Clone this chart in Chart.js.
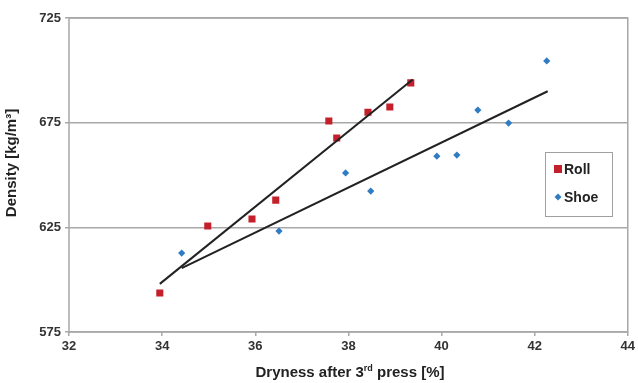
<!DOCTYPE html>
<html>
<head>
<meta charset="utf-8">
<script src="https://cdn.jsdelivr.net/npm/chart.js@4"></script>
<style>
  html, body { margin: 0; padding: 0; background: #fff; }
  #wrap { width: 638px; height: 383px; }
</style>
</head>
<body>
<div id="wrap"><canvas id="graphChart" width="638" height="383"></canvas></div>
<script>
// values
const rollDryness = [33.95, 34.98, 35.93, 36.44, 37.58, 37.75, 38.42, 38.89, 39.34];
const rollDensity = [593.6, 625.6, 629.0, 638.0, 675.8, 667.7, 680.0, 682.5, 694.0];
const shoeDryness = [34.42, 36.51, 37.94, 38.48, 39.90, 40.33, 40.78, 41.44, 42.26];
const shoeDensity = [612.7, 623.2, 651.0, 642.3, 659.0, 659.5, 681.0, 674.8, 704.5];
const rollTrendX = [33.95, 39.38];
const rollTrendY = [598.0, 695.6];
const shoeTrendX = [34.42, 42.28];
const shoeTrendY = [605.5, 690.0];
const xTicks = [32, 34, 36, 38, 40, 42, 44];
const yTicks = [575, 625, 675, 725];

const toPoints = (xs, ys) => xs.map((x, i) => ({ x: x, y: ys[i] }));

const FONT = "'Liberation Sans', Arial, sans-serif";

const frame = {
  id: 'frame',
  beforeDatasetsDraw(chart) {
    const a = chart.chartArea;
    const c = chart.ctx;
    c.save();
    c.strokeStyle = '#a8a8a8';
    c.lineWidth = 1.5;
    c.strokeRect(a.left, a.top, a.right - a.left, a.bottom - a.top);
    c.restore();
  },
  afterDraw(chart) {
    const c = chart.ctx;
    const a = chart.chartArea;
    c.save();
    c.fillStyle = '#222';
    c.textBaseline = 'alphabetic';
    c.textAlign = 'left';

    // x title with superscript
    const y0 = 377;
    const parts = [['Dryness after 3', 'bold 15px ' + FONT, 0], ['rd', 'bold 9px ' + FONT, -6], [' press [%]', 'bold 15px ' + FONT, 0]];
    let total = 0;
    parts.forEach(p => { c.font = p[1]; total += c.measureText(p[0]).width; });
    let x = 350 - total / 2;
    parts.forEach(p => { c.font = p[1]; c.fillText(p[0], x, y0 + p[2]); x += c.measureText(p[0]).width; });

    // y title
    c.save();
    c.translate(16, 163);
    c.rotate(-Math.PI / 2);
    c.textAlign = 'center';
    c.font = 'bold 15px ' + FONT;
    c.fillText('Density [kg/m³]', 0, 0);
    c.restore();

    // legend
    const lx = 545, ly = 152, lw = 67, lh = 64;
    c.fillStyle = '#fff';
    c.fillRect(lx, ly, lw, lh);
    c.strokeStyle = '#a0a0a0';
    c.lineWidth = 1;
    c.strokeRect(lx + 0.5, ly + 0.5, lw, lh);
    const ds = chart.data.datasets;
    const rows = [[ds[0], ly + 17], [ds[1], ly + 45]];
    rows.forEach(r => {
      const d = r[0];
      c.fillStyle = d.backgroundColor;
      if (d.pointStyle === 'rect') {
        c.fillRect(lx + 9, r[1] - 4, 8, 8);
      } else {
        c.beginPath();
        c.moveTo(lx + 13, r[1] - 3.5);
        c.lineTo(lx + 16.5, r[1]);
        c.lineTo(lx + 13, r[1] + 3.5);
        c.lineTo(lx + 9.5, r[1]);
        c.closePath();
        c.fill();
      }
      c.fillStyle = '#222';
      c.font = 'bold 14px ' + FONT;
      c.textBaseline = 'middle';
      c.textAlign = 'left';
      c.fillText(d.label, lx + 19, r[1] + 1);
    });
    c.restore();
  }
};

new Chart(document.getElementById('graphChart'), {
  type: 'scatter',
  data: {
    datasets: [
      {
        label: 'Roll',
        data: toPoints(rollDryness, rollDensity),
        backgroundColor: '#c4202b',
        borderColor: '#c4202b',
        pointStyle: 'rect',
        pointRadius: 5,
        borderWidth: 0,
        order: 2
      },
      {
        label: 'Shoe',
        data: toPoints(shoeDryness, shoeDensity),
        backgroundColor: '#2f7cc2',
        borderColor: '#2f7cc2',
        pointStyle: 'rectRot',
        pointRadius: 3.6,
        borderWidth: 0,
        order: 2
      },
      {
        label: 'Roll trend',
        type: 'line',
        data: toPoints(rollTrendX, rollTrendY),
        borderColor: '#222',
        borderWidth: 2,
        pointRadius: 0,
        fill: false,
        order: 1
      },
      {
        label: 'Shoe trend',
        type: 'line',
        data: toPoints(shoeTrendX, shoeTrendY),
        borderColor: '#222',
        borderWidth: 2,
        pointRadius: 0,
        fill: false,
        order: 1
      }
    ]
  },
  options: {
    responsive: false,
    animation: false,
    layout: { padding: { top: 18, right: 10, left: 0, bottom: 0 } },
    plugins: {
      legend: { display: false },
      tooltip: { enabled: false }
    },
    scales: {
      x: {
        type: 'linear',
        min: 32,
        max: 44,
        afterBuildTicks: (axis) => { axis.ticks = xTicks.map(v => ({ value: v })); },
        afterFit: (axis) => { axis.height = 51; },
        ticks: { color: '#333', font: { family: FONT, size: 13, weight: 'bold' }, padding: 3 },
        grid: { drawOnChartArea: false, drawTicks: true, tickLength: 4, color: '#a8a8a8', lineWidth: 1.5 },
        border: { display: false },
        title: { display: false }
      },
      y: {
        type: 'linear',
        min: 575,
        max: 725,
        afterBuildTicks: (axis) => { axis.ticks = yTicks.map(v => ({ value: v })); },
        afterFit: (axis) => { axis.width = 69; },
        ticks: { color: '#333', font: { family: FONT, size: 13, weight: 'bold' }, padding: 4 },
        grid: { color: '#a8a8a8', lineWidth: 1.5, drawTicks: true, tickLength: 4 },
        border: { display: false },
        title: { display: false }
      }
    }
  },
  plugins: [frame]
});
</script>
</body>
</html>
